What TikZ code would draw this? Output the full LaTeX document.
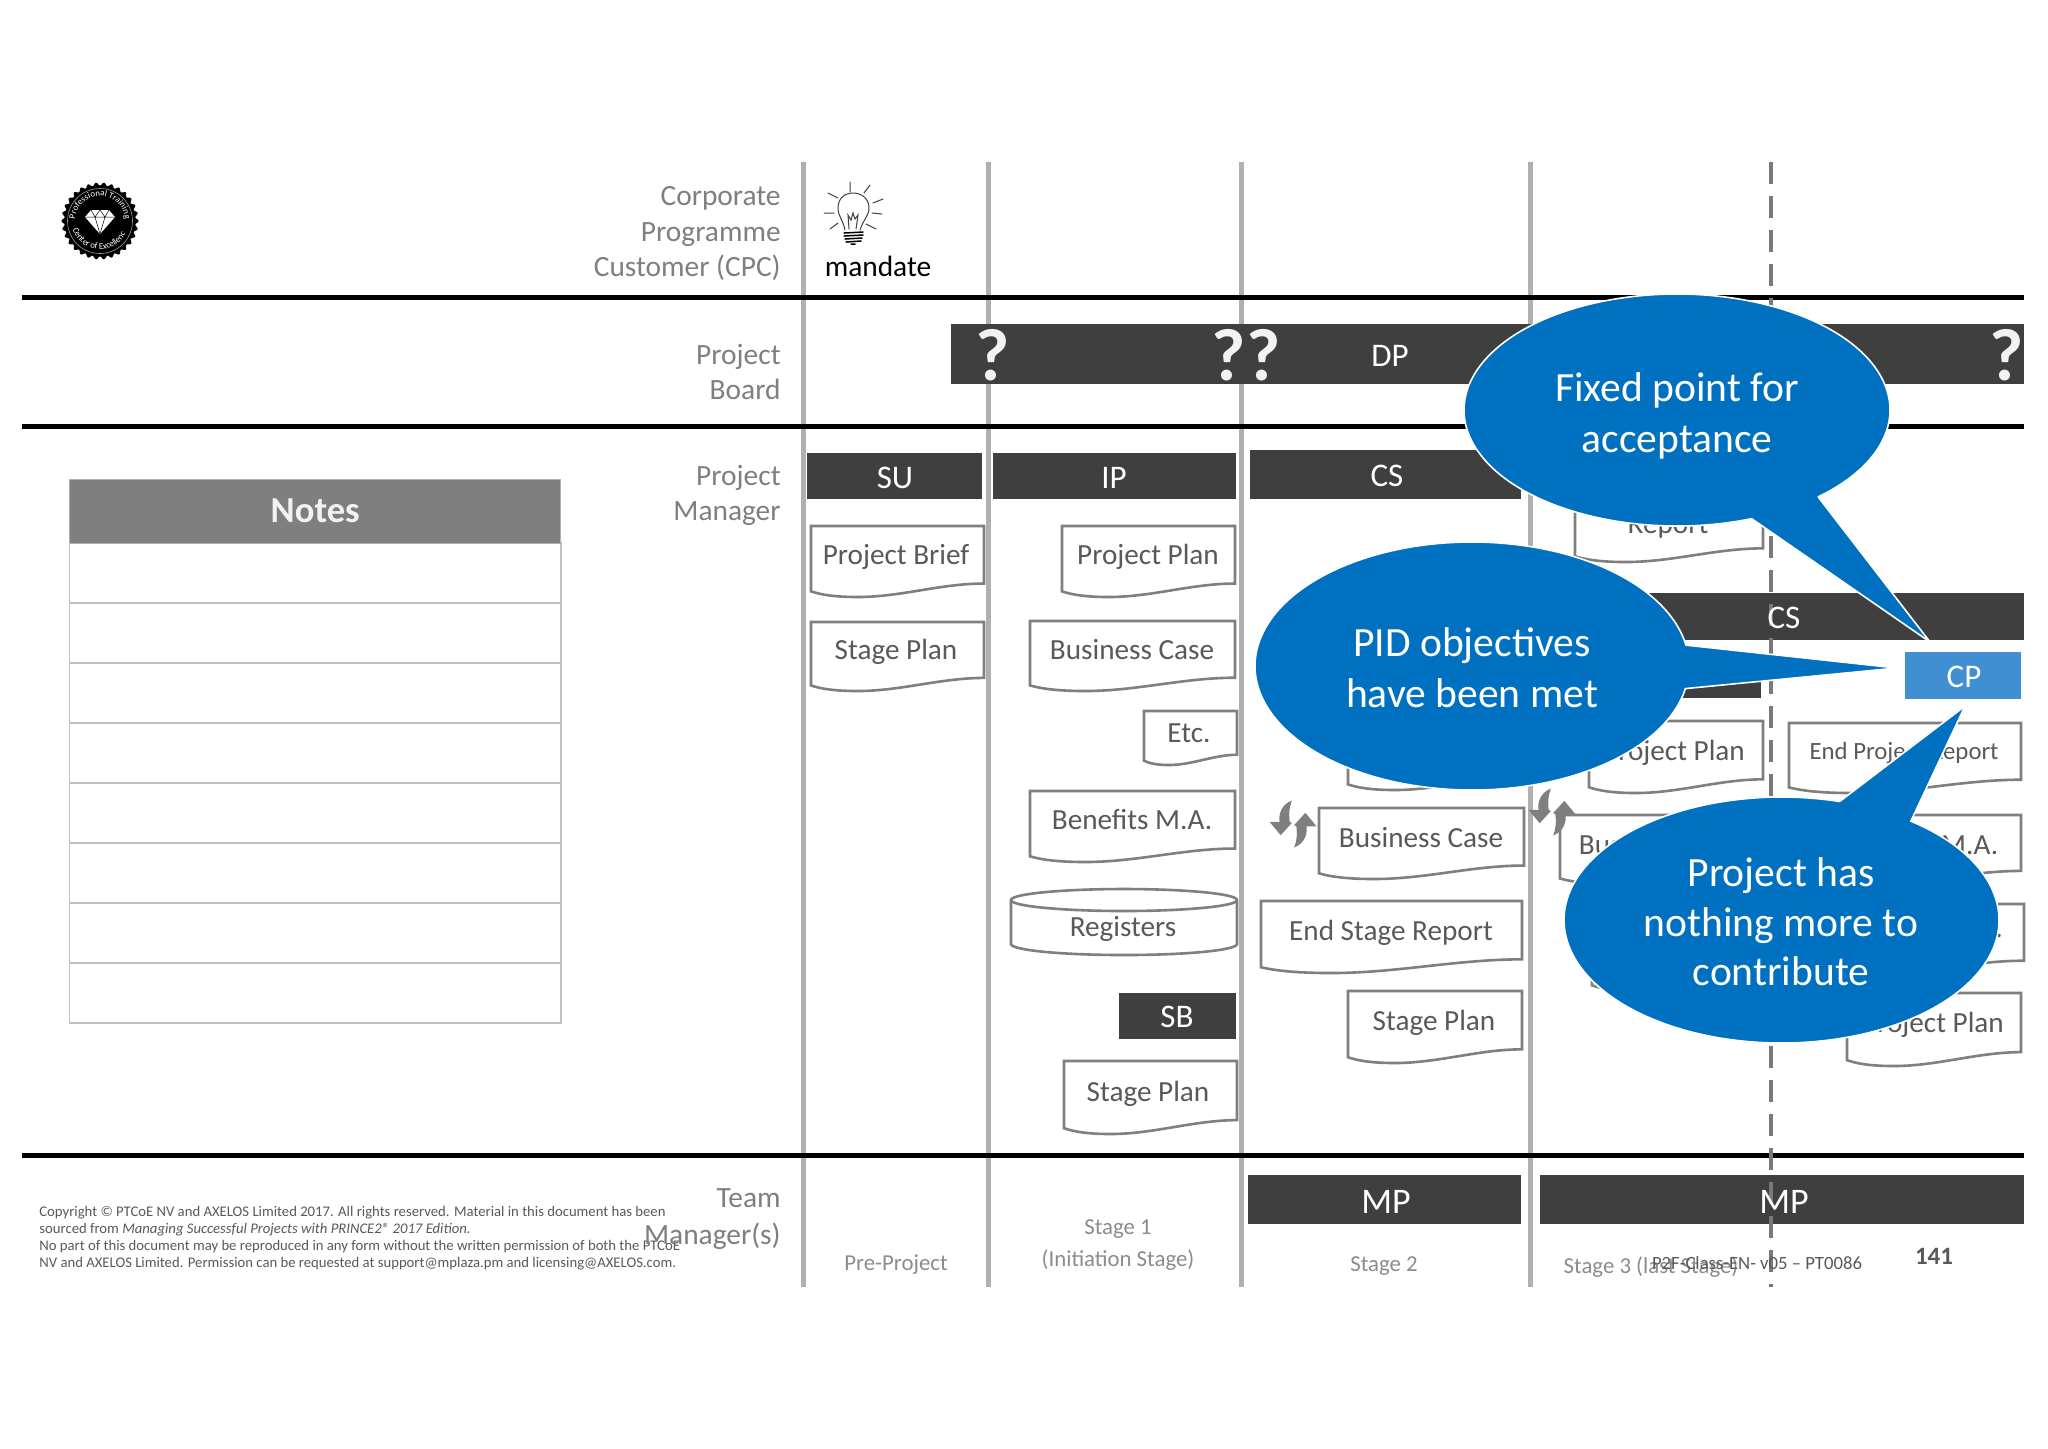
\documentclass[tikz,border=0pt]{standalone}
\usepackage{fontspec}
\setmainfont{Carlito}
\usetikzlibrary{decorations.text}
\definecolor{dark}{HTML}{3F3F3F}
\definecolor{midgray}{HTML}{7F7F7F}
\definecolor{linegray}{HTML}{B0B0B0}
\definecolor{textgray}{HTML}{595959}
\definecolor{stagegray}{HTML}{8C8C8C}
\definecolor{calloutblue}{HTML}{0070C0}
\definecolor{cpblue}{HTML}{3F8FD2}
\newcommand{\fs}[1]{\fontsize{#1}{#1}\selectfont}
\tikzset{
  lane/.style={draw=linegray,line width=2.5pt},
  rule/.style={draw=black,line width=2.5pt},
  rowlabel/.style={text=midgray,font=\fs{14.7},anchor=east,align=right,inner sep=0,text depth=0pt},
  darkbar/.style={fill=dark,draw=none},
  bartext/.style={text=white,font=\fs{16.5},inner sep=0,text depth=0pt},
  doc/.style={draw=midgray,fill=white,line width=1.3pt,line join=miter},
  doctext/.style={text=textgray,font=\fs{14.6},inner sep=0,text depth=0pt},
  stagetext/.style={text=stagegray,font=\fs{11.4},inner sep=0,text depth=0pt},
  callout/.style={fill=calloutblue,draw=white,line width=.8pt,line join=round},
  callouttext/.style={text=white,font=\fontsize{20.8}{25.5}\selectfont,align=center,inner sep=0},
  qmark/.style={text=white!95!black,font=\bfseries\fs{37},inner sep=0},
  notesrow/.style={draw=black!25,line width=.55pt},
  copyr/.style={text=textgray,font=\fs{7.35},anchor=west,inner sep=0,text depth=0pt},
}
% name, x1, y1, x2, y2
\newcommand{\docshape}[5]{%
  \pgfmathsetmacro{\dw}{#4-#2}\pgfmathsetmacro{\dh}{#5-#3}%
  \pgfmathsetmacro{\yr}{#3+.81*\dh}\pgfmathsetmacro{\yl}{#3+.92*\dh}%
  \pgfmathsetmacro{\cAx}{#4-.25*\dw}\pgfmathsetmacro{\cBx}{#2+.52*\dw}%
  \pgfmathsetmacro{\mx}{#2+.27*\dw}\pgfmathsetmacro{\cCx}{#2+.14*\dw}%
  \pgfmathsetmacro{\cDx}{#2+.06*\dw}\pgfmathsetmacro{\cDy}{#3+.97*\dh}%
  \draw[doc] (#2,#3) -- (#4,#3) -- (#4,\yr)
    .. controls (\cAx,\yr) and (\cBx,#5) .. (\mx,#5)
    .. controls (\cCx,#5) and (\cDx,\cDy) .. (#2,\yl) -- cycle;
  \coordinate (#1) at (#2,#3);%
}
\newcommand{\syncarrow}[2]{%
  \begin{scope}[shift={(#1,#2)},scale=1.12]
    \fill[midgray] (-1,-21) .. controls (-11,-17) and (-13,-8) .. (-12,-2) -- (-21,-2) -- (-11,10) -- (-1,-1) -- (-3,-2) .. controls (-4,-10) and (-3,-16) .. (-1,-21) -- cycle;
    \begin{scope}[rotate=180]
      \fill[midgray] (-1,-21) .. controls (-11,-17) and (-13,-8) .. (-12,-2) -- (-21,-2) -- (-11,10) -- (-1,-1) -- (-3,-2) .. controls (-4,-10) and (-3,-16) .. (-1,-21) -- cycle;
    \end{scope}
  \end{scope}}
\begin{document}
\begin{tikzpicture}[x=0.5pt,y=-0.5pt]
\useasboundingbox (0,0) rectangle (2048,1448);
\fill[white] (0,0) rectangle (2048,1448);
% lanes
\foreach \lx in {803,988,1241,1530} \draw[lane] (\lx,162) -- (\lx,1287);
% rules
\foreach \ry in {297,426,1155} \draw[rule] (22,\ry) -- (2024,\ry);
% row labels
\node[rowlabel] (cpc1) at (781,196) {Corporate};
\node[rowlabel] (cpc2) at (781,232) {Programme};
\node[rowlabel] (cpc3) at (781,266) {Customer (CPC)};
\node[rowlabel] (pb1) at (781,354) {Project};
\node[rowlabel] (pb2) at (781,389) {Board};
\node[rowlabel] (pm1) at (781,475) {Project};
\node[rowlabel] (pm2) at (781,511) {Manager};
% mandate
\node[text=black,font=\fs{14.7},inner sep=0] (mandate) at (878,266) {mandate};
% bulb
\begin{scope}[draw=black!75,line width=.5pt,line cap=round]
  \draw (850,182)--(850,192) (870,185)--(864,193) (883,199)--(873,203) (882,214)--(872,213) (876,229)--(866,224) (828,193)--(838,198) (824,213)--(834,213) (830,229)--(838,223);
  \draw (845,230) .. controls (843,220) and (838,216) .. (838,208) .. controls (838,198) and (845,193) .. (853,193) .. controls (861,193) and (869,198) .. (869,208) .. controls (869,216) and (863,220) .. (860,230);
  \draw (849,229) -- (848,215) -- (851,220) -- (853,213) -- (855,219) -- (858,215) -- (856,229);
  \draw[line width=.75pt,black] (844,233) -- (863,232) (844,236) -- (863,235) (845,239) -- (862,238) (846,242) -- (861,241) (851,244) -- (855,244);
\end{scope}
% logo
\begin{scope}[shift={(100,221)},y=0.5pt]
  \fill[black] plot[smooth,samples=180,domain=0:358] (\x:{37+1.6*cos(30*\x)}) -- cycle;
  \draw[white!60!black,line width=.3pt] (0,0) circle[radius=32.5];
  \fill[white] (-15,4) -- (-9,11) -- (9,11) -- (15,4) -- (0,-13) -- cycle;
  \draw[black,line width=.25pt] (-15,4) -- (15,4) (-5,4) -- (0,-13) -- (5,4) (-9,11) -- (-5,4) (9,11) -- (5,4) (-5,4) -- (0,11) -- (5,4);
  \path[decorate,decoration={text along path,text align=center,text color=white,text={|\fs{4.4}|Professional Training}}] (190:25) arc[start angle=190,end angle=-10,radius=25];
  \path[decorate,decoration={text along path,text align=center,text color=white,text={|\fs{4.4}|Center of Excellence}}] (208:28.5) arc[start angle=208,end angle=332,radius=28.5];
\end{scope}
% bars
\fill[darkbar] (951,324) rectangle (2024,384);
\node[bartext] (dp) at (1390,356) {DP};
\fill[darkbar] (807,453) rectangle (982,499);
\fill[darkbar] (993,453) rectangle (1236,499);
\fill[darkbar] (1250,450) rectangle (1521,499);
\fill[darkbar] (1119,993) rectangle (1236,1039);
\fill[darkbar] (1600,593) rectangle (2024,640);
\fill[darkbar] (1600,665) rectangle (1761,698);
\fill[darkbar] (1248,1175) rectangle (1521,1224);
\fill[darkbar] (1540,1175) rectangle (2024,1224);
\fill[cpblue] (1905,652) rectangle (2021,699);
% dashed fixed point line
\draw[draw=midgray!95!black,line width=2pt,dash pattern=on 11pt off 6pt] (1771,162) -- (1771,1287);
% bar texts
\node[qmark] (q1) at (993,355) {?};
\node[qmark] (q2) at (1229,355) {?};
\node[qmark] (q3) at (1264,355) {?};
\node[qmark] (q4) at (2007,355) {?};
\node[bartext] (su) at (895,478) {SU};
\node[bartext] (ip) at (1114,478) {IP};
\node[bartext] (cs1) at (1387,475.5) {CS};
\node[bartext] (sb) at (1177,1017) {SB};
\node[bartext] (cs2) at (1784,618) {CS};
\node[bartext] (cp) at (1964,677) {CP};
\node[bartext,font=\fs{18}] (mp1) at (1386,1202) {MP};
\node[bartext,font=\fs{18}] (mp2) at (1784,1202) {MP};
% documents, pre-project and stage 1
\docshape{d1}{811}{526}{984}{597}
\node[doctext] (t1) at (896,554) {Project Brief};
\docshape{d2}{811}{622}{984}{691}
\node[doctext] (t2) at (896,649) {Stage Plan};
\docshape{d3}{1062}{526}{1235}{597}
\node[doctext] (t3) at (1148,554) {Project Plan};
\docshape{d4}{1030}{621}{1235}{691}
\node[doctext] (t4) at (1132,649) {Business Case};
\docshape{d5}{1144}{711}{1237}{765}
\node[doctext] (t5) at (1189,733) {Etc.};
\docshape{d6}{1030}{791}{1235}{862}
\node[doctext] (t6) at (1132,819) {Benefits M.A.};
\draw[doc] (1011,900) -- (1011,944) .. controls (1011,950) and (1060,955) .. (1124,955) .. controls (1188,955) and (1237,950) .. (1237,944) -- (1237,900);
\draw[doc] (1124,900) ellipse[x radius=113,y radius=11];
\node[doctext] (t7) at (1123,926) {Registers};
\docshape{d8}{1064}{1061}{1237}{1134}
\node[doctext] (t8) at (1148,1091) {Stage Plan};
% stage 2
\docshape{d9}{1319}{808}{1524}{879}
\node[doctext] (t9) at (1421,837) {Business Case};
\docshape{d10}{1261}{901}{1522}{973}
\node[doctext] (t10) at (1391,930) {End Stage Report};
\docshape{d11}{1348}{991}{1522}{1063}
\node[doctext] (t11) at (1434,1020) {Stage Plan};
\docshape{d12}{1348}{720}{1522}{790}
% stage 3
\docshape{d13}{1575}{490}{1763}{562}
\node[doctext] (t13) at (1668,524) {Report};
\docshape{d14}{1589}{721}{1763}{793}
\node[doctext] (t14) at (1674,750) {Project Plan};
\docshape{d15}{1789}{723}{2021}{793}
\node[doctext,font=\fs{12.4}] (t15) at (1904,751) {End Project Report};
\docshape{d16}{1560}{815}{1765}{884}
\node[doctext] (t16) at (1661,844) {Business Case};
\docshape{d17}{1816}{815}{2021}{884}
\node[doctext] (t17) at (1918,844) {Benefits M.A.};
\docshape{d18}{1592}{920}{1763}{991}
\docshape{d19}{1816}{904}{2024}{974}
\node[doctext] (t19) at (1999,936) {.};
\docshape{d20}{1847}{993}{2021}{1066}
\node[doctext] (t20) at (1933,1022) {Project Plan};
\syncarrow{1293}{824}
\syncarrow{1552}{812}
% notes table
\foreach \ra/\rb in {543/603,603/663,663/723,723/783,783/843,843/903,903/963,963/1023}
  \draw[notesrow] (69.5,\ra) rectangle (561,\rb);
\node[draw=linegray,fill=midgray,minimum width=245.5pt,minimum height=32pt,inner sep=0,text=white!95!black,font=\bfseries\fs{18.3}] (notes) at (315.25,511) {\raisebox{-1.3pt}{Notes}};
% stage labels
\node[stagetext] (s0) at (896,1263) {Pre-Project};
\node[stagetext] (s1a) at (1118,1227) {Stage 1};
\node[stagetext] (s1b) at (1118,1258) {(Initiation Stage)};
\node[stagetext] (s2) at (1384,1264) {Stage 2};
\node[stagetext] (s3) at (1651,1265) {Stage 3 (last Stage)};
% footer
\node[copyr] (c1) at (39,1211) {Copyright © PTCoE NV and AXELOS Limited 2017. All rights reserved. Material in this document has been};
\node[copyr] (c2) at (39,1228) {sourced from \textit{Managing Successful Projects with PRINCE2® 2017 Edition.}};
\node[copyr] (c3) at (39,1245) {No part of this document may be reproduced in any form without the written permission of both the PTCoE};
\node[copyr] (c4) at (39,1262) {NV and AXELOS Limited. Permission can be requested at support@mplaza.pm and licensing@AXELOS.com.};
\node[rowlabel] (tm1) at (781,1198) {Team};
\node[rowlabel] (tm2) at (781,1234) {Manager(s)};
\node[text=textgray,font=\fs{9.35},inner sep=0] (ref) at (1757,1263) {P2F-Class-EN- v05 – PT0086};
\node[text=textgray,font=\bfseries\fs{12.5},inner sep=0] (page) at (1934,1256) {141};
% callouts
\draw[callout] (1677,410) ++(69.5:213 and 116) arc[start angle=69.5,end angle=408.5,x radius=213,y radius=116] -- (1930,642) -- cycle;
\node[callouttext] (fp) at (1677,416) {Fixed point for\\acceptance};
\draw[callout] (1472,666) ++(10.5:217 and 124) arc[start angle=10.5,end angle=350.3,x radius=217,y radius=124] -- (1897,668) -- cycle;
\node[callouttext] (pid) at (1472,668) {PID objectives\\have been met};
\draw[callout] (1781.5,920) ++(-53.5:217.5 and 123) arc[start angle=-53.5,end angle=285.5,x radius=217.5,y radius=123] -- (1965,706) -- cycle;
\node[callouttext,font=\fontsize{20.8}{24.8}\selectfont] (pn) at (1781,922) {Project has\\nothing more to\\contribute};
\end{tikzpicture}
\end{document}
